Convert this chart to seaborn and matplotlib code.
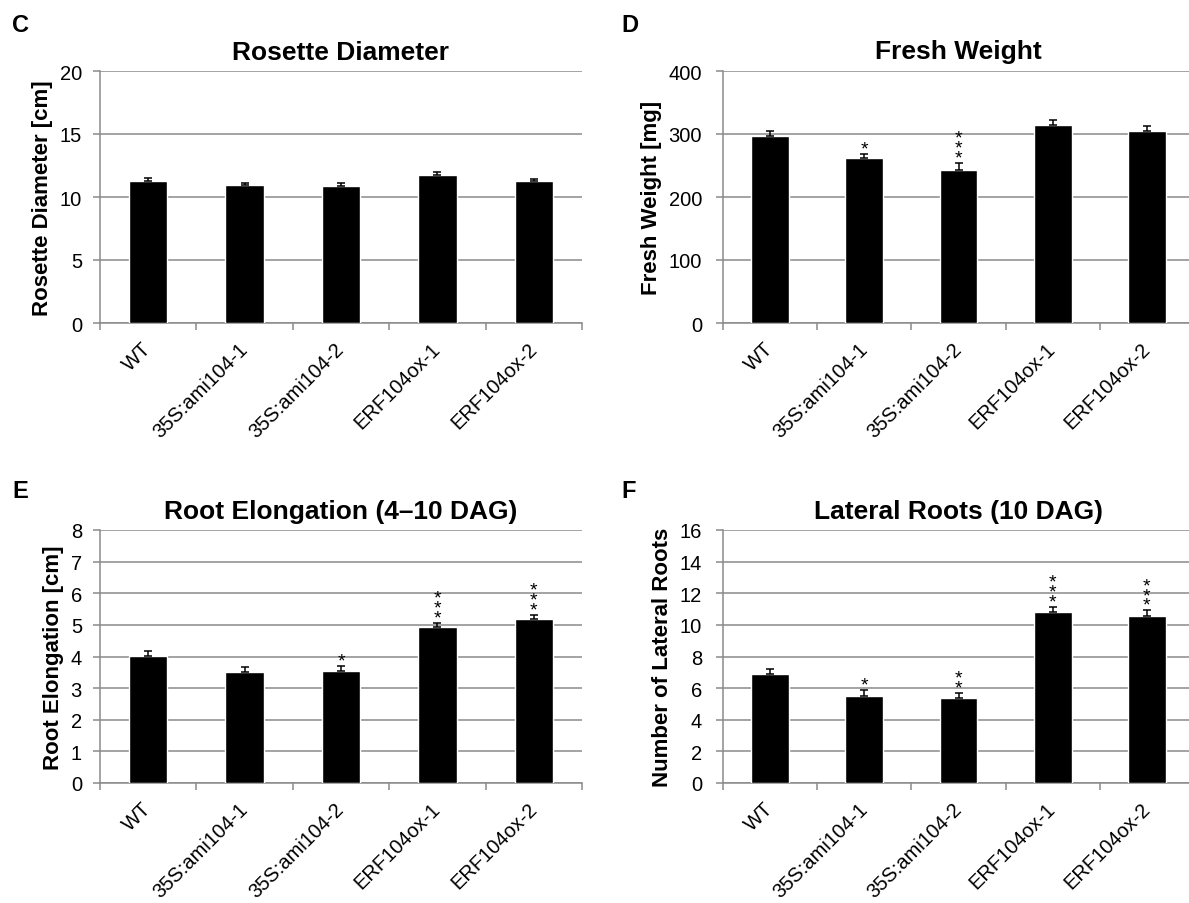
import matplotlib
matplotlib.use("Agg")
import matplotlib.pyplot as plt
import seaborn as sns
import numpy as np

sns.set_theme(style="white")
plt.rcParams["font.family"] = ["Liberation Sans", "DejaVu Sans"]

# Genotypes shown on every panel
genotypes = ["WT", "35S:ami104-1", "35S:ami104-2", "ERF104ox-1", "ERF104ox-2"]

# Rosette diameter [cm]
rosette_mean = [11.26, 10.92, 10.87, 11.76, 11.24]
rosette_se = [0.24, 0.23, 0.23, 0.21, 0.18]
rosette_sig = ["", "", "", "", ""]

# Fresh weight [mg]
fresh_mean = [297, 261.5, 243, 314, 304.5]
fresh_se = [8, 7, 11, 8.5, 8.5]
fresh_sig = ["", "*", "***", "", ""]

# Root elongation 4-10 DAG [cm]
root_mean = [4.03, 3.50, 3.53, 4.94, 5.18]
root_se = [0.15, 0.18, 0.17, 0.13, 0.14]
root_sig = ["", "", "*", "***", "***"]

# Lateral roots at 10 DAG
lateral_mean = [6.88, 5.49, 5.38, 10.84, 10.57]
lateral_se = [0.31, 0.40, 0.34, 0.30, 0.34]
lateral_sig = ["", "*", "**", "***", "***"]

W, H = 1189, 904
fig = plt.figure(figsize=(W / 100, H / 100), dpi=100)

GRID = "#8a8a8a"


def px_axes(x0, x1, ytop, ybot):
    return fig.add_axes([x0 / W, 1 - ybot / H, (x1 - x0) / W, (ybot - ytop) / H])


panels = [
    dict(ax=px_axes(100, 582, 72, 324), letter="C", lx=12, ly=14,
         title="Rosette Diameter", ylabel="Rosette Diameter [cm]",
         mean=rosette_mean, se=rosette_se, sig=rosette_sig,
         ymax=20, step=5, ypad=8),
    dict(ax=px_axes(723, 1194, 72, 324), letter="D", lx=621, ly=14,
         title="Fresh Weight", ylabel="Fresh Weight [mg]",
         mean=fresh_mean, se=fresh_se, sig=fresh_sig,
         ymax=400, step=100, ypad=10),
    dict(ax=px_axes(100, 582, 531, 784), letter="E", lx=12, ly=480,
         title="Root Elongation (4\u201310 DAG)", ylabel="Root Elongation [cm]",
         mean=root_mean, se=root_se, sig=root_sig,
         ymax=8, step=1, ypad=8),
    dict(ax=px_axes(723, 1194, 531, 784), letter="F", lx=621, ly=480,
         title="Lateral Roots (10 DAG)", ylabel="Number of Lateral Roots",
         mean=lateral_mean, se=lateral_se, sig=lateral_sig,
         ymax=16, step=2, ypad=10),
]

for p in panels:
    ax = p["ax"]
    xs = np.arange(len(genotypes))
    sns.barplot(x=genotypes, y=p["mean"], color="black", width=0.4,
                saturation=1, errorbar=None, ax=ax, zorder=3)
    # positive-only standard error bars
    ax.errorbar(xs, p["mean"], yerr=[np.zeros(len(xs)), p["se"]], fmt="none",
                ecolor="black", elinewidth=1.1, capsize=3, capthick=1.1, zorder=4)
    # significance stars, stacked vertically above the error bars
    for x, m, s, sig in zip(xs, p["mean"], p["se"], p["sig"]):
        if sig:
            ax.annotate("\n".join(sig), xy=(x, m + s), xytext=(0, -2.5),
                        textcoords="offset points", ha="center",
                        va="bottom", multialignment="center", linespacing=0.45,
                        fontsize=14, color="black", zorder=5)

    ax.set_ylim(0, p["ymax"])
    ax.set_xlim(-0.5, len(genotypes) - 0.5)
    ax.set_yticks(np.arange(0, p["ymax"] + p["step"] / 2, p["step"]))
    ax.yaxis.grid(True, color=GRID, linewidth=1.1, zorder=0)
    ax.set_axisbelow(True)
    for side in ["top", "right"]:
        ax.spines[side].set_visible(False)
    for side in ["left", "bottom"]:
        ax.spines[side].set_color(GRID)
        ax.spines[side].set_linewidth(1.1)
        ax.spines[side].set_zorder(1)

    ax.set_xticks(xs)
    ax.set_xticks(np.arange(-0.5, len(genotypes)), minor=True)
    ax.tick_params(axis="x", which="major", length=0, pad=16)
    ax.tick_params(axis="x", which="minor", length=5, width=1.1, color=GRID,
                   direction="out", bottom=True)
    ax.tick_params(axis="y", length=5, width=1.1, color=GRID, direction="out",
                   left=True, labelsize=14.5, pad=p["ypad"], labelcolor="black")
    ax.set_xticklabels(genotypes, rotation=45, ha="right", va="center",
                       rotation_mode="anchor", fontsize=14.5, color="black")

    ax.set_xlabel("")
    ax.set_ylabel(p["ylabel"], fontsize=16, fontweight="bold", labelpad=5,
                  color="black")
    ax.set_title(p["title"], fontsize=19, fontweight="bold", pad=9, color="black")
    fig.text(p["lx"] / W, 1 - p["ly"] / H, p["letter"], fontsize=17,
             fontweight="bold", ha="left", va="top", color="black")

fig.savefig("out.png", dpi=100, facecolor="white")
